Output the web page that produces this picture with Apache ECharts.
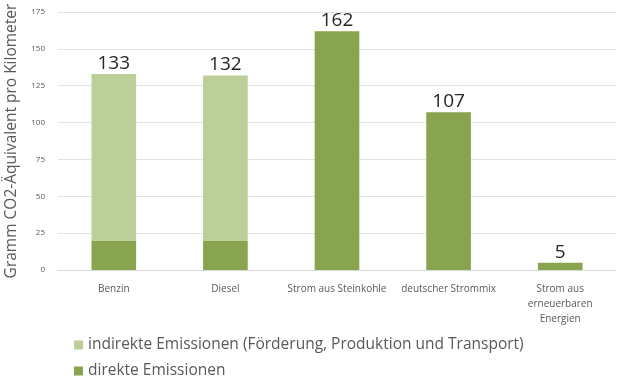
<!DOCTYPE html>
<html><head><meta charset="utf-8">
<script src="https://cdn.jsdelivr.net/npm/echarts@6/dist/echarts.min.js"></script>
<style>html,body{margin:0;padding:0;background:#fff}#c{width:624px;height:386px}</style>
</head><body><div id="c"></div>
<script>
var categories = ['Benzin', 'Diesel', 'Strom aus Steinkohle', 'deutscher Strommix', 'Strom aus\nerneuerbaren\nEnergien'];
var direct = [20, 20, 162, 107, 5];
var indirect = [113, 112, null, null, null];
var yTicks = [0, 25, 50, 75, 100, 125, 150, 175];
var seriesNames = ['indirekte Emissionen (Förderung, Produktion und Transport)', 'direkte Emissionen'];

var font = '"Open Sans", "Noto Sans", sans-serif';
var chart = echarts.init(document.getElementById('c'), null, {renderer: 'canvas'});
function total(i) { return (direct[i] || 0) + (indirect[i] || 0); }
chart.setOption({
  animation: false,
  textStyle: {fontFamily: font},
  grid: {left: 58, right: 8, top: 12, bottom: 116, containLabel: false, outerBoundsMode: 'none'},
  legend: {
    orient: 'vertical', left: 74, top: 337, height: 60, itemWidth: 9, itemHeight: 9, itemGap: 10,
    icon: 'rect', padding: 0,
    textStyle: {fontSize: 15.5, color: '#595959', fontFamily: font},
    data: seriesNames
  },
  xAxis: {
    type: 'category', data: categories,
    axisLine: {lineStyle: {color: '#d9d9d9'}},
    axisTick: {show: false},
    axisLabel: {fontSize: 10, color: '#595959', margin: 12, lineHeight: 15, interval: 0, fontFamily: font}
  },
  yAxis: {
    type: 'value', min: 0, max: 175, interval: 25,
    name: 'Gramm CO2-Äquivalent pro Kilometer', nameLocation: 'middle', nameGap: 38,
    nameTextStyle: {fontSize: 15.5, color: '#595959', fontFamily: font, padding: [0, 0, 0, 0]},
    axisLine: {show: false}, axisTick: {show: false},
    axisLabel: {fontSize: 8, color: '#595959', margin: 13, formatter: function(v){ return yTicks.indexOf(v) >= 0 ? String(v) : ''; }},
    splitLine: {lineStyle: {color: '#e3e3e3'}}
  },
  series: [
    {
      name: seriesNames[1], type: 'bar', stack: 's', data: direct, barWidth: '40%',
      itemStyle: {color: '#88a44f'},
      label: {show: true, position: 'top', fontSize: 19, color: '#262626', distance: 1,
        formatter: function(p){ return indirect[p.dataIndex] == null ? String(total(p.dataIndex)) : ''; }}
    },
    {
      name: seriesNames[0], type: 'bar', stack: 's', data: indirect, barWidth: '40%',
      itemStyle: {color: '#bccf99'},
      label: {show: true, position: 'top', fontSize: 19, color: '#262626', distance: 1,
        formatter: function(p){ return String(total(p.dataIndex)); }}
    }
  ]
});
</script></body></html>
